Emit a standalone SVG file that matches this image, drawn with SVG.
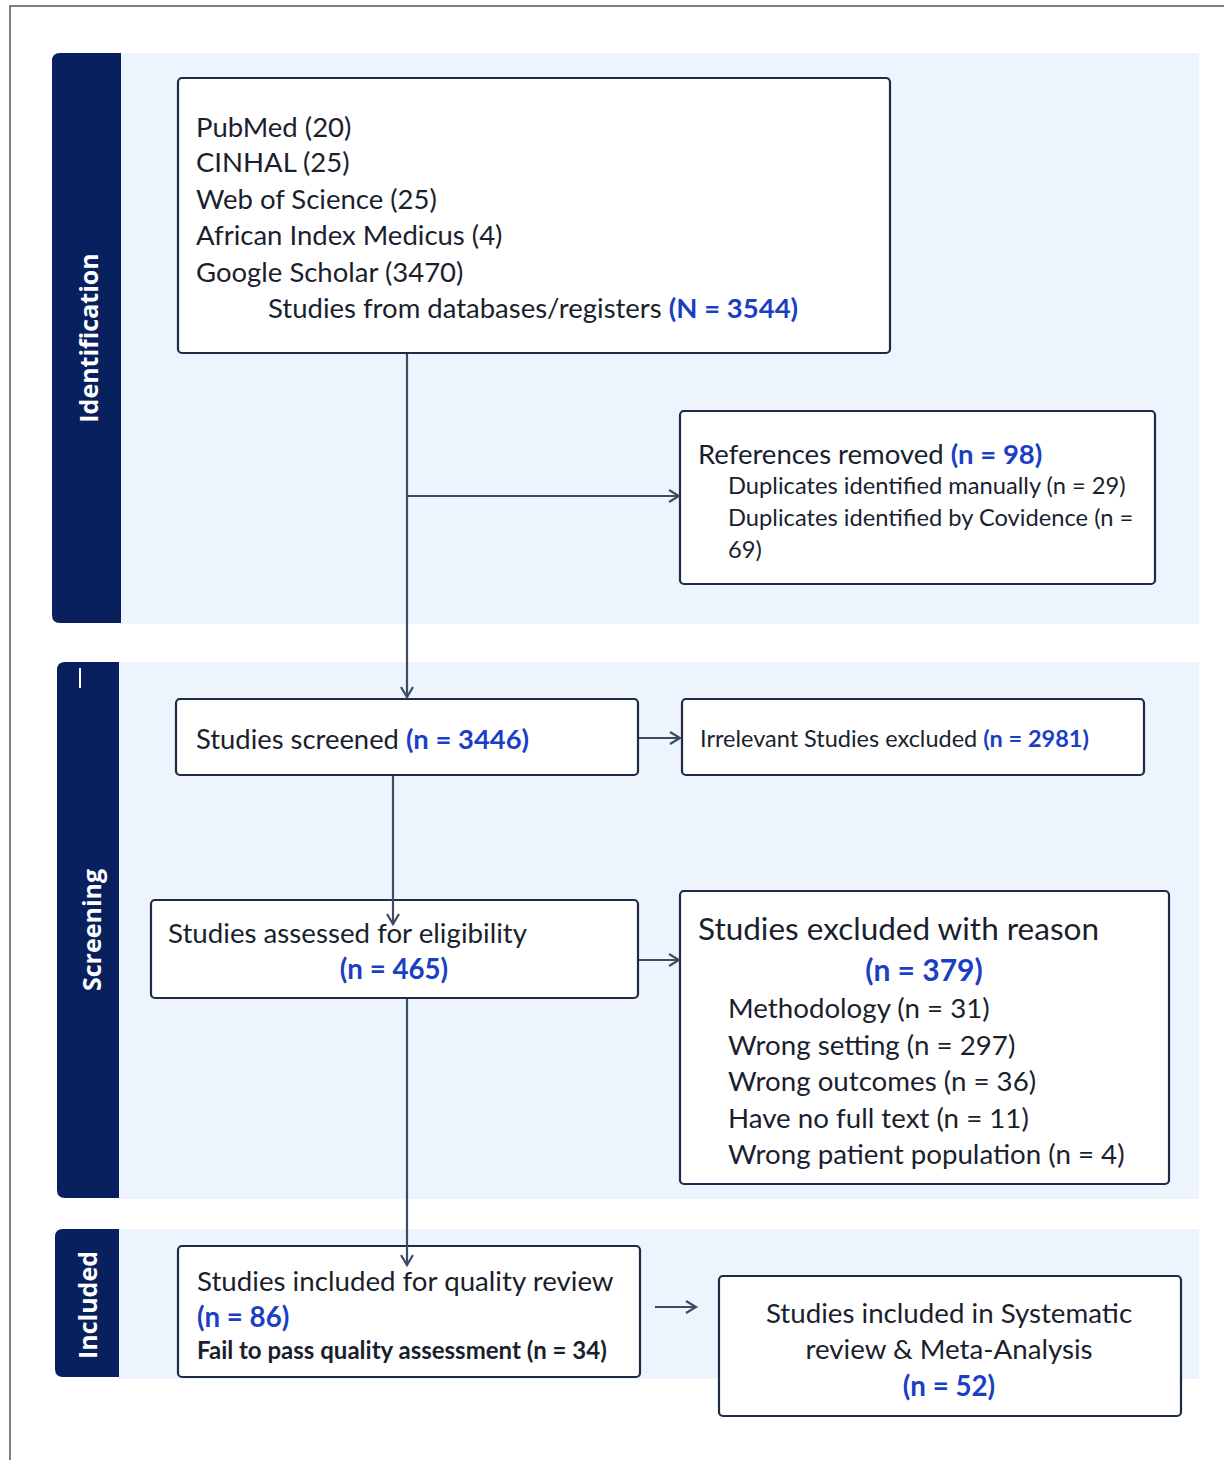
<svg xmlns="http://www.w3.org/2000/svg" width="1224" height="1460" viewBox="0 0 1224 1460">
<style>
.band{fill:#EEF4FD}
.side{fill:#08215E}
.box{fill:#FFFFFF;stroke:#1E2B47;stroke-width:2.2}
.t{font-family:Lato,"Liberation Sans",sans-serif;fill:#1A1F2E}
.b{fill:#1B3FC4;font-weight:bold}
.lab{font-family:"Open Sans","Liberation Sans",sans-serif;font-weight:bold;fill:#FFFFFF;font-size:25px}
.con{stroke:#3E4C63;stroke-width:2.2;fill:none}
</style>
<defs>
<marker id="ah" markerWidth="14" markerHeight="14" refX="11" refY="7" orient="auto" markerUnits="userSpaceOnUse">
<path d="M1,1 L11,7 L1,13" fill="none" stroke="#3E4C63" stroke-width="2.2"/>
</marker>
</defs>
<rect x="0" y="0" width="1224" height="1460" fill="#FFFFFF"/>
<path d="M10,1460 L10,6 L1224,6" fill="none" stroke="#555555" stroke-width="1.5"/>

<g id="bands">
<rect class="band" x="120" y="53" width="1079" height="571"/>
<path class="side" d="M60,53 L121,53 L121,623 L60,623 Q52,623 52,615 L52,61 Q52,53 60,53 Z"/>
<text class="lab" transform="translate(98,338) rotate(-90)" text-anchor="middle">Identification</text>
<rect class="band" x="118" y="662" width="1081" height="537"/>
<path class="side" d="M65,662 L119,662 L119,1198 L65,1198 Q57,1198 57,1190 L57,670 Q57,662 65,662 Z"/>
<line x1="80" y1="668" x2="80" y2="688" stroke="#FFFFFF" stroke-width="2"/>
<text class="lab" transform="translate(101,930) rotate(-90)" text-anchor="middle">Screening</text>
<rect class="band" x="118" y="1229" width="1081" height="150"/>
<path class="side" d="M63,1229 L119,1229 L119,1377 L63,1377 Q55,1377 55,1369 L55,1237 Q55,1229 63,1229 Z"/>
<text class="lab" transform="translate(97,1305) rotate(-90)" text-anchor="middle">Included</text>
</g>

<g id="sources">
<rect class="box" x="178" y="78" width="712" height="275" rx="4"/>
<text class="t" font-size="27.5"><tspan x="196" y="137">PubMed (20)</tspan><tspan x="196" y="172">CINHAL (25)</tspan><tspan x="196" y="209">Web of Science (25)</tspan><tspan x="196" y="245">African Index Medicus (4)</tspan><tspan x="196" y="282">Google Scholar (3470)</tspan><tspan x="268" y="318">Studies from databases/registers <tspan class="b">(N = 3544)</tspan></tspan></text>
</g>

<g id="removed">
<rect class="box" x="680" y="411" width="475" height="173" rx="4"/>
<text class="t" font-size="27.5" x="698" y="464">References removed <tspan class="b">(n = 98)</tspan></text>
<text class="t" font-size="23.7"><tspan x="728" y="494">Duplicates identified manually (n = 29)</tspan><tspan x="728" y="526">Duplicates identified by Covidence (n =</tspan><tspan x="728" y="558">69)</tspan></text>
</g>

<g id="screened">
<rect class="box" x="176" y="699" width="462" height="76" rx="4"/>
<text class="t" font-size="27.4" x="196" y="749">Studies screened <tspan class="b">(n = 3446)</tspan></text>
</g>

<g id="irrelevant">
<rect class="box" x="682" y="699" width="462" height="76" rx="4"/>
<text class="t" font-size="23.5" x="700" y="747">Irrelevant Studies excluded <tspan class="b">(n = 2981)</tspan></text>
</g>

<g id="eligibility">
<rect class="box" x="151" y="900" width="487" height="98" rx="4"/>
<text class="t" font-size="27.7" x="168" y="943">Studies assessed for eligibility</text>
<text class="t b" font-size="27.7" x="394" y="979" text-anchor="middle">(n = 465)</text>
</g>

<g id="excluded">
<rect class="box" x="680" y="891" width="489" height="293" rx="4"/>
<text class="t" font-size="31.5" x="698" y="940">Studies excluded with reason</text>
<text class="t b" font-size="30" x="924" y="981" text-anchor="middle">(n = 379)</text>
<text class="t" font-size="27.7"><tspan x="728" y="1018">Methodology (n = 31)</tspan><tspan x="728" y="1055">Wrong setting (n = 297)</tspan><tspan x="728" y="1091">Wrong outcomes (n = 36)</tspan><tspan x="728" y="1128">Have no full text (n = 11)</tspan><tspan x="728" y="1164">Wrong patient population (n = 4)</tspan></text>
</g>

<g id="quality">
<rect class="box" x="178" y="1246" width="462" height="131" rx="4"/>
<text class="t" font-size="27.7" x="197" y="1291">Studies included for quality review</text>
<text class="t b" font-size="27.7" x="197" y="1327">(n = 86)</text>
<text class="t" font-size="24" font-weight="bold" x="197" y="1359">Fail to pass quality assessment (n = 34)</text>
</g>

<g id="final">
<rect class="box" x="719" y="1276" width="462" height="140" rx="4"/>
<text class="t" font-size="27.7" text-anchor="middle"><tspan x="949" y="1323">Studies included in Systematic</tspan><tspan x="949" y="1359">review &amp; Meta-Analysis</tspan></text>
<text class="t b" font-size="27.7" x="949" y="1396" text-anchor="middle">(n = 52)</text>
</g>

<g id="connectors">
<line class="con" x1="407" y1="354" x2="407" y2="697" marker-end="url(#ah)"/>
<line class="con" x1="407" y1="496" x2="679" y2="496" marker-end="url(#ah)"/>
<line class="con" x1="393" y1="776" x2="393" y2="924" marker-end="url(#ah)"/>
<line class="con" x1="639" y1="738" x2="680" y2="738" marker-end="url(#ah)"/>
<line class="con" x1="639" y1="960" x2="679" y2="960" marker-end="url(#ah)"/>
<line class="con" x1="407" y1="999" x2="407" y2="1265" marker-end="url(#ah)"/>
<line class="con" x1="655" y1="1307" x2="696" y2="1307" marker-end="url(#ah)"/>
</g>
</svg>
